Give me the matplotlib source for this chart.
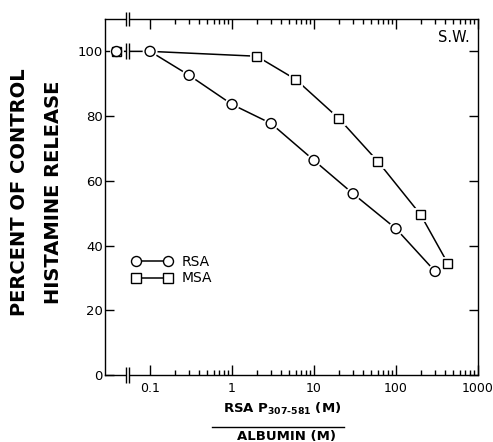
import matplotlib
matplotlib.use('Agg')
import matplotlib.pyplot as plt
import matplotlib.transforms as mtransforms
import matplotlib.patheffects as pe
from matplotlib.ticker import FixedLocator, FixedFormatter, NullFormatter, NullLocator
from matplotlib.lines import Line2D

plt.rcParams['font.family'] = ['DejaVu Sans']
plt.rcParams['mathtext.fontset'] = 'dejavusans'
plt.rcParams['mathtext.default'] = 'bf'

# ---- data ----
control_x = 0.0385        # position of the control point, left of the axis break
break_x = 0.0532          # axis break position
control_value = 100

rsa_conc = [0.1, 0.3, 1, 3, 10, 30, 100, 300]
rsa_release = [100, 92.6, 83.6, 77.7, 66.3, 56.0, 45.2, 32.0]

msa_conc = [0.1, 2, 6, 20, 60, 200, 430]
msa_release = [100, 98.5, 91.3, 79.3, 66.0, 49.5, 34.4]

xticks = [0.1, 1, 10, 100, 1000]
xticklabels = ['0.1', '1', '10', '100', '1000']
yticks = [0, 20, 40, 60, 80, 100]
series_labels = ['RSA', 'MSA']

# ---- figure ----
fig = plt.figure(figsize=(4.93, 4.42), dpi=100)
ax = fig.add_axes([0.213, 0.1516, 0.7566, 0.8054])
ax.set_xscale('log')

# ---- ticks ----
minor = [k * 10.0 ** d for d in range(-1, 3) for k in range(2, 10)]
ax.xaxis.set_major_locator(FixedLocator(xticks))
ax.xaxis.set_major_formatter(FixedFormatter(xticklabels))
ax.xaxis.set_minor_locator(FixedLocator(minor))
ax.xaxis.set_minor_formatter(NullFormatter())
ax.yaxis.set_major_locator(FixedLocator(yticks))
ax.yaxis.set_minor_locator(NullLocator())
ax.tick_params(which='both', direction='in', top=True, right=True, width=1.0)
ax.tick_params(axis='x', which='major', length=7.5, labelsize=9, pad=5)
ax.tick_params(axis='x', which='minor', length=3.8)
ax.tick_params(axis='y', which='major', length=6.5, labelsize=9.5, pad=1.5)
for s in ax.spines.values():
    s.set_linewidth(1.0)

lw = 1.1
halo = [pe.withStroke(linewidth=3.5, foreground='white')]

# connecting lines
ax.plot([control_x] + rsa_conc, [control_value] + rsa_release, color='black', lw=lw, zorder=2)
ax.plot(msa_conc, msa_release, color='black', lw=lw, zorder=2)

# markers (white halo so the lines stop short of them)
ax.plot(msa_conc[1:], msa_release[1:], ls='none', marker='s', ms=6.5, mfc='white',
        mec='black', mew=1.0, zorder=4, path_effects=halo)
ax.plot(rsa_conc, rsa_release, ls='none', marker='o', ms=7.2, mfc='white',
        mec='black', mew=1.0, zorder=4, path_effects=halo)
# control point (both albumins)
ax.plot([control_x], [control_value], ls='none', marker='s', ms=6.5, mfc='white',
        mec='black', mew=1.0, zorder=4, path_effects=halo)
ax.plot([control_x], [control_value], ls='none', marker='o', ms=7.2, mfc='white',
        mec='black', mew=1.0, zorder=5)

ax.set_xlim(0.0282, 1000)
ax.set_ylim(0, 110)


def add_break(trans, y, size):
    ax.add_line(Line2D([break_x], [y], marker='|', ms=4, mew=2.6, color='white', ls='none',
                       transform=trans, clip_on=False, zorder=7))
    for dx in (-1.7, 1.7):
        t = mtransforms.offset_copy(trans, fig=fig, x=dx, y=0, units='dots')
        ax.add_line(Line2D([break_x], [y], marker='|', ms=size, mew=1.0, color='black',
                           ls='none', transform=t, clip_on=False, zorder=8))


add_break(ax.get_xaxis_transform(), 0, 12)
add_break(ax.get_xaxis_transform(), 1, 10)
add_break(ax.transData, control_value, 11)

# ---- texts ----
fig.text(0.0396, 0.566, 'PERCENT OF CONTROL', rotation=90, ha='center', va='center',
         fontsize=14, fontweight='bold')
fig.text(0.1085, 0.566, 'HISTAMINE RELEASE', rotation=90, ha='center', va='center',
         fontsize=14, fontweight='bold')

ax.text(0.979, 0.947, 'S.W.', transform=ax.transAxes, ha='right', va='center', fontsize=10.5)

fig.text(0.572, 0.0656, 'RSA P$_{307‐581}$ (M)', ha='center', va='baseline',
         fontsize=9.5, fontweight='bold')
fig.text(0.582, 0.0045, 'ALBUMIN (M)', ha='center', va='baseline',
         fontsize=9.5, fontweight='bold')
fig.add_artist(Line2D([0.43, 0.698], [0.0339, 0.0339], transform=fig.transFigure,
                      color='black', lw=1.0))

# ---- legend ----
handles = [
    Line2D([], [], color='black', lw=lw, marker='o', ms=7.2, mfc='white', mec='black', mew=1.0),
    Line2D([], [], color='black', lw=lw, marker='s', ms=6.5, mfc='white', mec='black', mew=1.0),
]
ax.legend(handles, series_labels, loc='upper left', bbox_to_anchor=(0.072, 0.338),
          frameon=False, borderpad=0, borderaxespad=0, handlelength=2.9,
          handletextpad=0.7, labelspacing=0.2, numpoints=2, fontsize=10)

fig.savefig('out.png', dpi=100)
